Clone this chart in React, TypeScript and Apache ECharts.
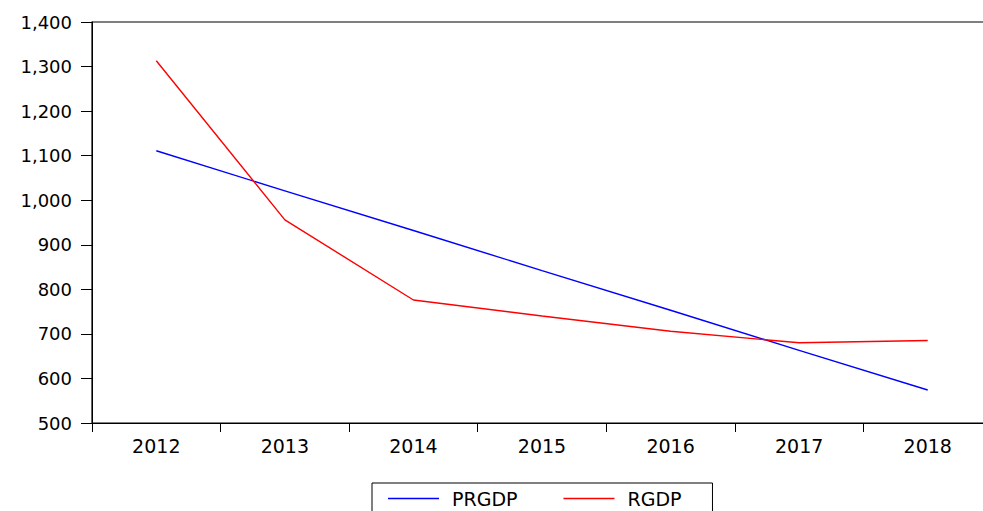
import React, { useEffect, useRef } from "react";
import * as echarts from "echarts";

const years = ["2012", "2013", "2014", "2015", "2016", "2017", "2018"];
const prgdp = [1111, 1021, 932, 842, 753, 663, 574];
const rgdp = [1313, 956, 776, 740, 706, 680, 685];
const yMin = 500;
const yMax = 1400;
const yStep = 100;

const FONT = "DejaVu Sans";

export default function App() {
  const ref = useRef<HTMLDivElement>(null);
  useEffect(() => {
    if (!ref.current) return;
    const chart = echarts.init(ref.current, undefined, { renderer: "svg" });
    chart.setOption({
      animation: false,
      backgroundColor: "#ffffff",
      grid: {
        left: 92,
        top: 22,
        width: 900,
        height: 401,
        show: true,
        borderColor: "#000",
        borderWidth: 1.2,
        containLabel: false,
      },
      legend: {
        left: 372,
        top: 483,
        padding: [6, 31, 22, 16],
        borderColor: "#000",
        borderWidth: 1,
        icon: "rect",
        itemWidth: 51,
        itemHeight: 1.5,
        itemGap: 46,
        textStyle: {
          fontFamily: FONT,
          fontSize: 19,
          color: "#000",
          padding: [0, 0, 0, 8],
        },
        data: ["PRGDP", "RGDP"],
      },
      xAxis: {
        type: "category",
        data: years,
        boundaryGap: true,
        axisLine: { show: true, lineStyle: { color: "#000", width: 1 } },
        axisTick: { show: true, length: 9, lineStyle: { color: "#000" } },
        axisLabel: {
          color: "#000",
          fontFamily: FONT,
          fontSize: 19,
          margin: 13,
        },
        splitLine: { show: false },
      },
      yAxis: {
        type: "value",
        min: yMin,
        max: yMax,
        interval: yStep,
        axisLine: { show: true, lineStyle: { color: "#000", width: 1 } },
        axisTick: { show: true, length: 11, lineStyle: { color: "#000" } },
        axisLabel: {
          color: "#000",
          fontFamily: FONT,
          fontSize: 18,
          margin: 20,
          formatter: (v: number) => v.toLocaleString("en-US"),
        },
        splitLine: { show: false },
      },
      series: [
        {
          name: "PRGDP",
          type: "line",
          data: prgdp,
          symbol: "none",
          itemStyle: { color: "#0000ff" },
          lineStyle: { color: "#0000ff", width: 1.4 },
        },
        {
          name: "RGDP",
          type: "line",
          data: rgdp,
          symbol: "none",
          itemStyle: { color: "#ff0000" },
          lineStyle: { color: "#ff0000", width: 1.4 },
        },
      ],
    });
    return () => chart.dispose();
  }, []);
  return (
    <div style={{ position: "fixed", left: 0, top: 0, width: 983, height: 511, overflow: "hidden" }}>
      <div ref={ref} style={{ width: 1010, height: 511 }} />
    </div>
  );
}
